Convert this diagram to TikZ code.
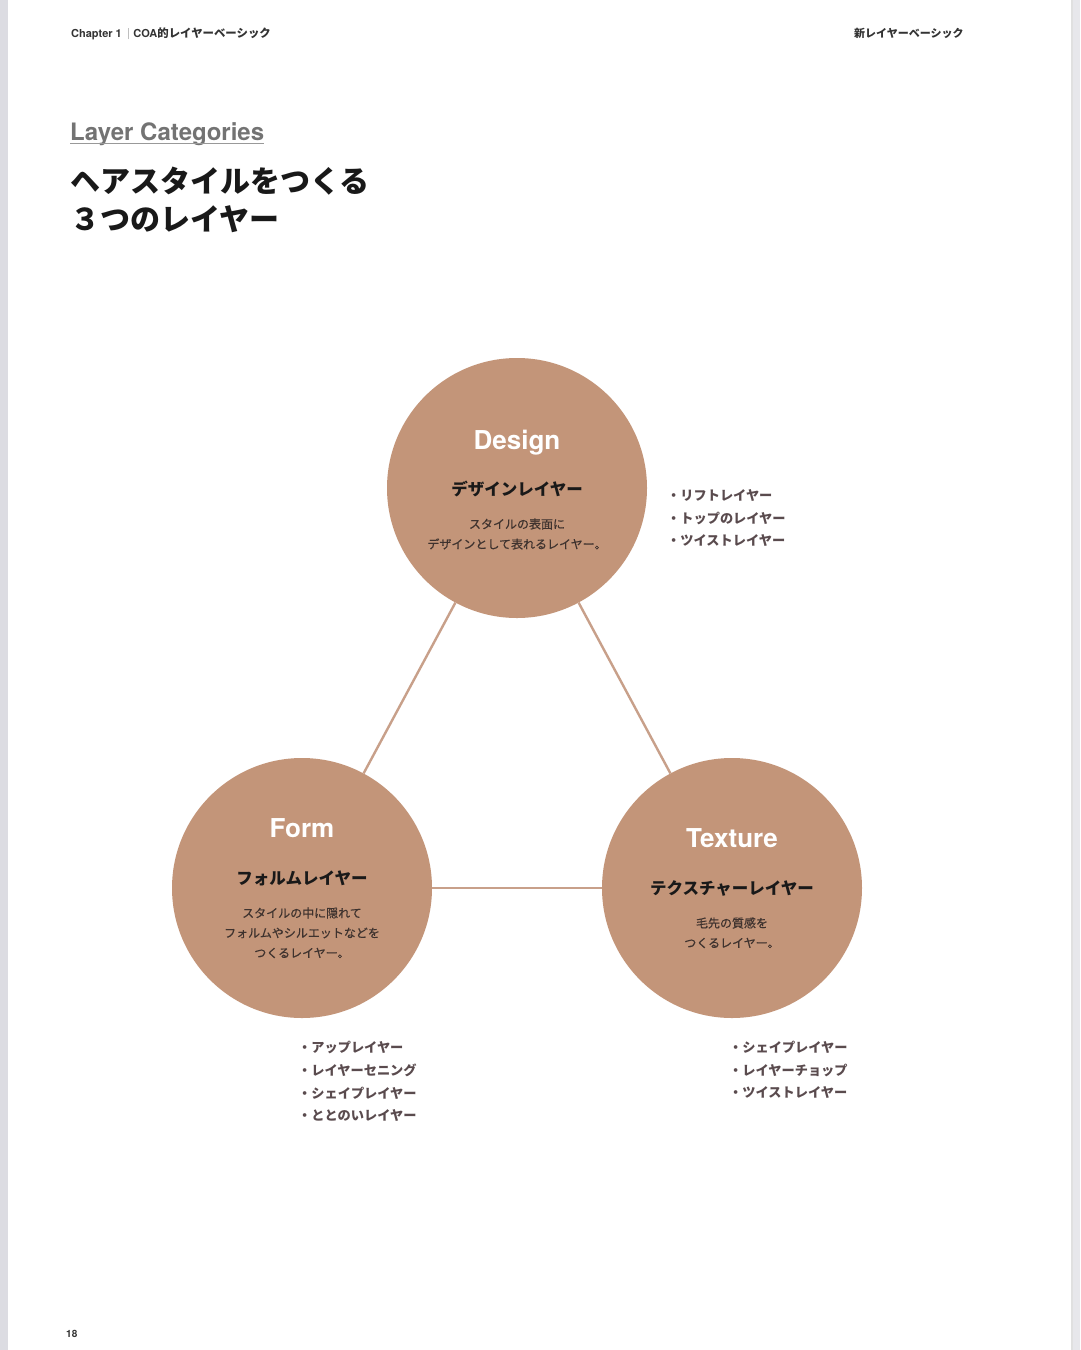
\documentclass[tikz,border=0pt]{standalone}
\usepackage{fontspec}
\setmainfont{TeX Gyre Heros}
\newfontfamily\jp{Noto Sans CJK JP}
\newfontfamily\jpm[FakeBold=0.5]{Noto Sans CJK JP}
\definecolor{tan}{HTML}{C39579}
\definecolor{conncol}{HTML}{C8A08A}
\definecolor{desccol}{HTML}{3E322E}
\definecolor{listcol}{HTML}{5A4B4E}
\definecolor{headcol}{HTML}{333333}
\definecolor{sidegray}{HTML}{DCDCE2}
\tikzset{
  circ/.style={circle, fill=tan, minimum size=260pt, inner sep=0pt},
  conn/.style={draw=conncol, line width=2.4pt},
  entitle/.style={text=white, font=\fontsize{26}{30}\selectfont\bfseries, anchor=base, inner sep=0pt},
  jptitle/.style={text=black!90, font=\jp\bfseries\fontsize{16.5}{20}\selectfont, inner sep=0pt},
  desc/.style={text=desccol, font=\jpm\fontsize{12}{20}\selectfont, inner sep=0pt, align=center},
  listitem/.style={text=listcol, font=\jp\bfseries\fontsize{13.2}{22.7}\selectfont, inner sep=0pt, anchor=north west, align=left},
  head/.style={text=headcol, font=\bfseries\fontsize{11}{13}\selectfont, inner sep=0pt}
}
\begin{document}
\begin{tikzpicture}[x=1pt,y=-1pt]
\useasboundingbox (0,0) rectangle (1080,1350);
\fill[white] (0,0) rectangle (1080,1350);
\fill[sidegray] (0,0) rectangle (8,1350);
\fill[sidegray!70] (1071,0) rectangle (1080,1350);
\fill[black!12] (1071,0) rectangle (1073,1350);

% header
\node[head, anchor=west] (hl) at (71,34) {Chapter 1\hspace{6pt}\textcolor{black!25}{\rule[-1.5pt]{0.6pt}{11pt}}\hspace{5pt}COA{\jp\bfseries\fontsize{11.4}{13}\selectfont 的レイヤーベーシック}};
\node[head, anchor=west, font=\jp\bfseries\fontsize{11}{13}\selectfont] (hr) at (854,33) {新レイヤーベーシック};

% title
\node[anchor=base west, inner sep=0pt, text=black!55, font=\bfseries\fontsize{24}{30}\selectfont] (lc) at (70,140) {Layer Categories};
\draw[black!40, line width=1pt] (lc.base west) ++(0,3.5) -- ([yshift=-3.5pt]lc.base east);
\node[anchor=west, inner sep=0pt, text=black!90, font=\jp\bfseries\fontsize{30}{38}\selectfont] (t1) at (70,181) {ヘアスタイルをつくる};
\node[anchor=west, inner sep=0pt, text=black!90, font=\jp\bfseries\fontsize{30}{38}\selectfont] (t2) at (70,219) {３つのレイヤー};

% circles
\node[circ] (d) at (517,488) {};
\node[circ] (f) at (302,888) {};
\node[circ] (t) at (732,888) {};

% connectors
\draw[conn] (d) -- (f);
\draw[conn] (d) -- (t);
\draw[conn] (f) -- (t);

% Design
\node[entitle] (dn) at (517,449) {Design};
\node[jptitle] (dj) at (517,489) {デザインレイヤー};
\node[desc] (dd1) at (517,524) {スタイルの表面に};
\node[desc] (dd2) at (517,544) {デザインとして表れるレイヤー。};

% Form
\node[entitle] (fn) at (302,837) {Form};
\node[jptitle] (fj) at (302,878) {フォルムレイヤー};
\node[desc] (fd1) at (302,913) {スタイルの中に隠れて};
\node[desc] (fd2) at (302,933) {フォルムやシルエットなどを};
\node[desc] (fd3) at (302,953) {つくるレイヤー。};

% Texture
\node[entitle] (tn) at (732,847) {Texture};
\node[jptitle] (tj) at (732,888) {テクスチャーレイヤー};
\node[desc] (td1) at (732,923) {毛先の質感を};
\node[desc] (td2) at (732,943) {つくるレイヤー。};

% lists
\node[listitem] (dl1) at (667,496) [anchor=west] {・リフトレイヤー};
\node[listitem] (dl2) at (667,518.5) [anchor=west] {・トップのレイヤー};
\node[listitem] (dl3) at (667,541) [anchor=west] {・ツイストレイヤー};

\node[listitem] (fl1) at (298,1047) [anchor=west] {・アップレイヤー};
\node[listitem] (fl2) at (298,1070) [anchor=west] {・レイヤーセニング};
\node[listitem] (fl3) at (298,1093) [anchor=west] {・シェイプレイヤー};
\node[listitem] (fl4) at (298,1116) [anchor=west] {・ととのいレイヤー};

\node[listitem] (tl1) at (729,1047) [anchor=west] {・シェイプレイヤー};
\node[listitem] (tl2) at (729,1070) [anchor=west] {・レイヤーチョップ};
\node[listitem] (tl3) at (729,1093) [anchor=west] {・ツイストレイヤー};

% page number
\node[head, anchor=west, font=\bfseries\fontsize{10}{12}\selectfont] (pn) at (66,1334) {18};
\end{tikzpicture}
\end{document}
